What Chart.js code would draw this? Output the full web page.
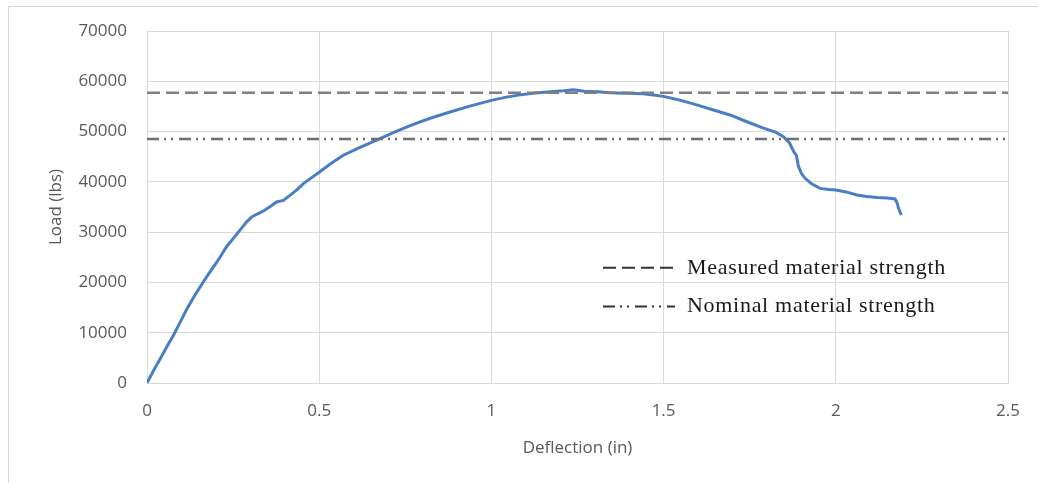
<!DOCTYPE html>
<html>
<head>
<meta charset="utf-8">
<script src="https://cdn.jsdelivr.net/npm/chart.js@4"></script>
<style>
  html, body { margin: 0; padding: 0; background: #fff; overflow: hidden; }
  #wrap { position: relative; width: 1038px; height: 483px; }
  #frame {
    position: absolute; left: 8px; top: 6px; width: 1100px; height: 600px;
    border: 1px solid #d9d9d9; pointer-events: none;
  }
  canvas { position: absolute; left: 0; top: 0; }
</style>
</head>
<body>
<div id="wrap">
  <div id="frame"></div>
  <canvas id="loadChart" width="1038" height="483"></canvas>
</div>
<script>
// Load-deflection curve
const deflection = [
  0, 0.02, 0.04, 0.06, 0.076, 0.095, 0.115, 0.135, 0.155, 0.173,
  0.195, 0.212, 0.23, 0.25, 0.27, 0.29, 0.304, 0.32, 0.338, 0.36,
  0.376, 0.396, 0.415, 0.435, 0.455, 0.475, 0.5, 0.535, 0.57, 0.62,
  0.667, 0.715, 0.764, 0.82, 0.88, 0.94, 1.0, 1.04, 1.073, 1.12,
  1.17, 1.21, 1.238, 1.27, 1.31, 1.344, 1.39, 1.441, 1.5, 1.55,
  1.596, 1.645, 1.693, 1.74, 1.79, 1.825, 1.848, 1.865, 1.878, 1.886,
  1.891, 1.9, 1.911, 1.93, 1.954, 1.98, 2.0, 2.03, 2.061, 2.09,
  2.119, 2.15, 2.172, 2.178, 2.182, 2.19
];
const load = [
  0, 2600, 5000, 7500, 9400, 11900, 14600, 17000, 19200, 21100,
  23300, 25000, 27000, 28700, 30400, 32100, 33000, 33600, 34200, 35200,
  36000, 36300, 37300, 38400, 39700, 40700, 41900, 43700, 45300, 46900,
  48300, 49800, 51200, 52600, 53900, 55100, 56200, 56800, 57200, 57600,
  57900, 58100, 58300, 58000, 57900, 57700, 57600, 57500, 57000, 56200,
  55300, 54300, 53300, 52000, 50700, 49900, 49000, 47800, 46000, 45200,
  43200, 41700, 40700, 39600, 38700, 38500, 38400, 38000, 37400, 37100,
  36900, 36800, 36600, 35800, 34800, 33400
];

const measuredStrength = 57700;
const nominalStrength = 48500;
const strengthLabels = ["Measured material strength", "Nominal material strength"];

const X_MIN = 0, X_MAX = 2.5, X_STEP = 0.5;
const Y_MIN = 0, Y_MAX = 70000, Y_STEP = 10000;

const AXIS_GREY = "#595959";
const GRID_GREY = "#d9d9d9";
const MEASURED_DASH = [13, 6];
const NOMINAL_DASH = [12, 5, 2, 5, 2, 6];

const curvePoints = deflection.map((d, i) => ({ x: d, y: load[i] }));

// legend drawn inside the plot, anchored to data coordinates
const insideLegend = {
  id: "insideLegend",
  afterDatasetsDraw(chart) {
    const { ctx, scales: { x, y } } = chart;
    const rows = [
      { text: strengthLabels[0], dash: MEASURED_DASH, at: 22900 },
      { text: strengthLabels[1], dash: NOMINAL_DASH, at: 15200 },
    ];
    const x0 = x.getPixelForValue(1.324);
    const x1 = x.getPixelForValue(1.533);
    const xt = x.getPixelForValue(1.568);
    ctx.save();
    rows.forEach((r) => {
      const py = y.getPixelForValue(r.at);
      ctx.strokeStyle = "#333333";
      ctx.lineWidth = 2;
      ctx.setLineDash(r.dash);
      ctx.beginPath();
      ctx.moveTo(x0, py);
      ctx.lineTo(x1, py);
      ctx.stroke();
      ctx.setLineDash([]);
      ctx.fillStyle = "#1a1a1a";
      ctx.font = "22px 'Liberation Serif', 'Times New Roman', serif";
      ctx.letterSpacing = "0.7px";
      ctx.textBaseline = "middle";
      ctx.fillText(r.text, xt, py);
    });
    ctx.restore();
  },
};

new Chart(document.getElementById("loadChart"), {
  type: "scatter",
  data: {
    datasets: [
      {
        label: strengthLabels[0],
        data: [{ x: X_MIN, y: measuredStrength }, { x: X_MAX, y: measuredStrength }],
        showLine: true,
        borderColor: "#7f7f7f",
        borderWidth: 2.5,
        borderDash: MEASURED_DASH,
        pointRadius: 0,
      },
      {
        label: strengthLabels[1],
        data: [{ x: X_MIN, y: nominalStrength }, { x: X_MAX, y: nominalStrength }],
        showLine: true,
        borderColor: "#6f6f6f",
        borderWidth: 2.5,
        borderDash: NOMINAL_DASH,
        pointRadius: 0,
      },
      {
        label: "Load",
        data: curvePoints,
        showLine: true,
        borderColor: "#4a7ec4",
        borderWidth: 3,
        pointRadius: 0,
        tension: 0,
      },
    ],
  },
  options: {
    responsive: false,
    animation: false,
    layout: { padding: { top: 31, right: 30, left: 0, bottom: 0 } },
    plugins: {
      legend: { display: false },
      tooltip: { enabled: false },
    },
    scales: {
      x: {
        type: "linear",
        min: X_MIN,
        max: X_MAX,
        afterFit: (s) => { s.height = 100; },
        ticks: {
          stepSize: X_STEP,
          color: AXIS_GREY,
          padding: 18,
          font: { family: "'Open Sans'", size: 17 },
          callback: (v) => String(v),
        },
        grid: { color: GRID_GREY, lineWidth: 1, drawTicks: false },
        border: { color: GRID_GREY },
        title: {
          display: true,
          text: "Deflection (in)",
          color: AXIS_GREY,
          font: { family: "'Open Sans'", size: 17 },
          padding: { top: 0, bottom: 25 },
        },
      },
      y: {
        type: "linear",
        min: Y_MIN,
        max: Y_MAX,
        afterFit: (s) => { s.width = 147; },
        ticks: {
          stepSize: Y_STEP,
          color: AXIS_GREY,
          padding: 20,
          font: { family: "'Open Sans'", size: 17 },
          callback: (v) => String(v),
        },
        grid: { color: GRID_GREY, lineWidth: 1, drawTicks: false },
        border: { color: GRID_GREY },
        title: {
          display: true,
          text: "Load (lbs)",
          color: AXIS_GREY,
          font: { family: "'Open Sans'", size: 17 },
          padding: { top: 46, bottom: 0 },
        },
      },
    },
  },
  plugins: [insideLegend],
});
</script>
</body>
</html>
